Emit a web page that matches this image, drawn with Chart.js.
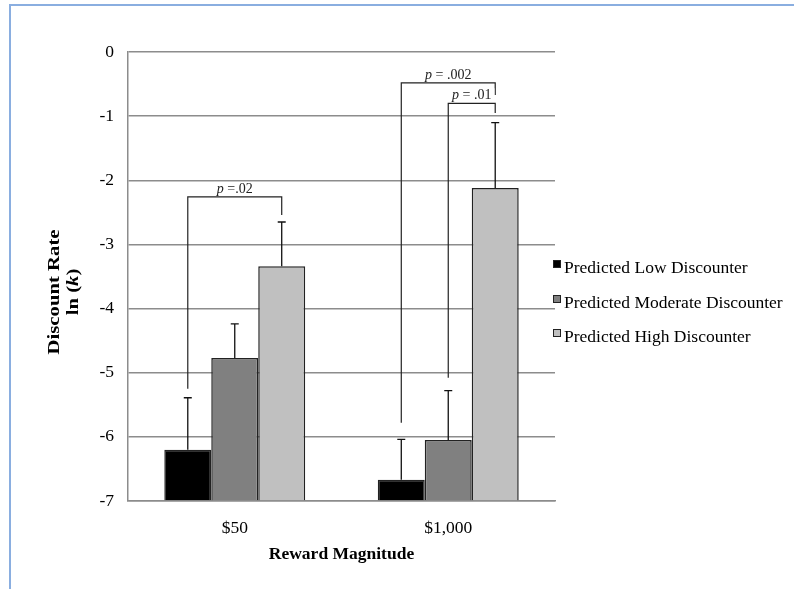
<!DOCTYPE html>
<html>
<head>
<meta charset="utf-8">
<script src="https://cdn.jsdelivr.net/npm/chart.js@4/dist/chart.umd.min.js"></script>
<style>
  html, body { margin: 0; padding: 0; background: #fff; }
  #wrap { position: relative; width: 794px; height: 589px; overflow: hidden; }
  #frame { position: absolute; left: 9px; top: 4px; width: 800px; height: 600px;
           border-left: 2px solid #8aaee0; border-top: 2px solid #8aaee0; }
  canvas { position: absolute; left: 0; top: 0; }
</style>
</head>
<body>
<div id="wrap">
  <div id="frame"></div>
  <canvas id="chart" width="794" height="589"></canvas>
</div>
<script>
// data
const categories = ["$50", "$1,000"];
const seriesNames = ["Predicted Low Discounter", "Predicted Moderate Discounter", "Predicted High Discounter"];
const lowValues = [-6.2, -6.67];
const moderateValues = [-4.77, -6.05];
const highValues = [-3.34, -2.12];
// upper ends of the error bars
const lowUpper = [-5.39, -6.04];
const moderateUpper = [-4.24, -5.28];
const highUpper = [-2.65, -1.1];
const yTicks = [0, -1, -2, -3, -4, -5, -6, -7];

// significance brackets: category, bar from/to, top level, leg ends
const bracketCats = [0, 1, 1];
const bracketFrom = [0, 0, 1];
const bracketTo = [2, 2, 2];
const bracketTop = [-2.26, -0.48, -0.80];
const bracketFromEnd = [-5.25, -5.78, -5.08];
const bracketToEnd = [-2.54, -0.67, -0.95];
const bracketText = [" =.02", " = .002", " = .01"];

const upperBySeries = [lowUpper, moderateUpper, highUpper];
const colors = ["#000000", "#808080", "#c0c0c0"];
const serif = "'Liberation Serif', 'Times New Roman', serif";

const extras = {
    id: "extras",
    afterDatasetsDraw(chart) {
        const ctx = chart.ctx;
        const y = chart.scales.y;
        ctx.save();

        // error bars
        ctx.strokeStyle = "#111";
        ctx.lineWidth = 1.3;
        chart.data.datasets.forEach((ds, i) => {
            const meta = chart.getDatasetMeta(i);
            meta.data.forEach((bar, j) => {
                const top = y.getPixelForValue(upperBySeries[i][j]);
                ctx.beginPath();
                ctx.moveTo(bar.x, bar.y);
                ctx.lineTo(bar.x, top);
                ctx.moveTo(bar.x - 4, top);
                ctx.lineTo(bar.x + 4, top);
                ctx.stroke();
            });
        });

        // brackets
        ctx.lineWidth = 1.2;
        ctx.strokeStyle = "#222";
        bracketCats.forEach((c, k) => {
            const x1 = chart.getDatasetMeta(bracketFrom[k]).data[c].x;
            const x2 = chart.getDatasetMeta(bracketTo[k]).data[c].x;
            const yt = y.getPixelForValue(bracketTop[k]);
            ctx.beginPath();
            ctx.moveTo(x1, y.getPixelForValue(bracketFromEnd[k]));
            ctx.lineTo(x1, yt);
            ctx.lineTo(x2, yt);
            ctx.lineTo(x2, y.getPixelForValue(bracketToEnd[k]));
            ctx.stroke();

            ctx.font = "italic 14px " + serif;
            const wp = ctx.measureText("p").width;
            ctx.font = "14px " + serif;
            const wr = ctx.measureText(bracketText[k]).width;
            const w = wp + wr;
            const cx = (x1 + x2) / 2;
            const base = yt - 4;
            ctx.fillStyle = "#fff";
            ctx.fillRect(cx - w / 2 - 3, base - 11, w + 6, 13);
            ctx.fillStyle = "#222";
            ctx.textBaseline = "alphabetic";
            ctx.textAlign = "left";
            ctx.font = "italic 14px " + serif;
            ctx.fillText("p", cx - w / 2, base);
            ctx.font = "14px " + serif;
            ctx.fillText(bracketText[k], cx - w / 2 + wp, base);
        });

        // legend
        const lx = chart.chartArea.right - 2;
        const ly = [268, 303, 337];
        ctx.textBaseline = "middle";
        ctx.textAlign = "left";
        ctx.font = "17.5px " + serif;
        chart.data.datasets.forEach((ds, i) => {
            ctx.fillStyle = ds.backgroundColor;
            ctx.fillRect(lx, ly[i] - 8, 7, 7);
            ctx.strokeStyle = "#222";
            ctx.lineWidth = 1;
            ctx.strokeRect(lx + 0.5, ly[i] - 7.5, 7, 7);
            ctx.fillStyle = "#000";
            ctx.fillText(ds.label, lx + 11, ly[i]);
        });

        // axis titles
        const ca = chart.chartArea;
        ctx.fillStyle = "#000";
        ctx.textAlign = "center";
        ctx.font = "bold 17.5px " + serif;
        ctx.fillText("Reward Magnitude", (ca.left + ca.right) / 2, 554);

        // y title, stretched along its length like the reference
        const my = 292;
        ctx.translate(55, my);
        ctx.rotate(-Math.PI / 2);
        ctx.scale(1.22, 1);
        ctx.textBaseline = "middle";
        ctx.font = "bold 17px " + serif;
        ctx.fillText("Discount Rate", 0, 0);
        ctx.restore();

        ctx.save();
        ctx.translate(74, my);
        ctx.rotate(-Math.PI / 2);
        ctx.scale(1.22, 1);
        ctx.textBaseline = "middle";
        ctx.textAlign = "left";
        ctx.fillStyle = "#000";
        const parts = [["bold 17px ", "ln ("], ["bold italic 17px ", "k"], ["bold 17px ", ")"]];
        let total = 0;
        parts.forEach(p => { ctx.font = p[0] + serif; total += ctx.measureText(p[1]).width; });
        let px = -total / 2;
        parts.forEach(p => {
            ctx.font = p[0] + serif;
            ctx.fillText(p[1], px, 0);
            px += ctx.measureText(p[1]).width;
        });
        ctx.restore();
    }
};

const makeSet = (label, data, color) => ({
    label: label,
    data: data,
    backgroundColor: color,
    borderColor: "#222",
    borderWidth: 1.5,
    borderSkipped: "bottom",
    base: -7,
    categoryPercentage: 0.66,
    barPercentage: 1.0,
});

new Chart(document.getElementById("chart"), {
    type: "bar",
    data: {
        labels: categories,
        datasets: [
            makeSet(seriesNames[0], lowValues, colors[0]),
            makeSet(seriesNames[1], moderateValues, colors[1]),
            makeSet(seriesNames[2], highValues, colors[2]),
        ],
    },
    options: {
        responsive: false,
        animation: false,
        devicePixelRatio: 1,
        layout: { padding: { left: 0, right: 239, top: 52, bottom: 0 } },
        plugins: { legend: { display: false }, tooltip: { enabled: false } },
        scales: {
            x: {
                grid: { display: false },
                border: { display: true, color: "#8c8c8c", width: 1.5 },
                ticks: { color: "#000", font: { family: serif, size: 17.5 }, padding: 9 },
                afterFit: (s) => { s.height = 88; },
            },
            y: {
                min: -7,
                max: 0,
                afterBuildTicks: (s) => { s.ticks = yTicks.map(v => ({ value: v })); },
                grid: { color: "#8c8c8c", lineWidth: 1.5, drawTicks: false },
                border: { display: true, color: "#8c8c8c", width: 1.5 },
                ticks: { color: "#000", font: { family: serif, size: 17.5 }, padding: 14 },
                afterFit: (s) => { s.width = 128; },
            },
        },
    },
    plugins: [extras],
});
</script>
</body>
</html>
